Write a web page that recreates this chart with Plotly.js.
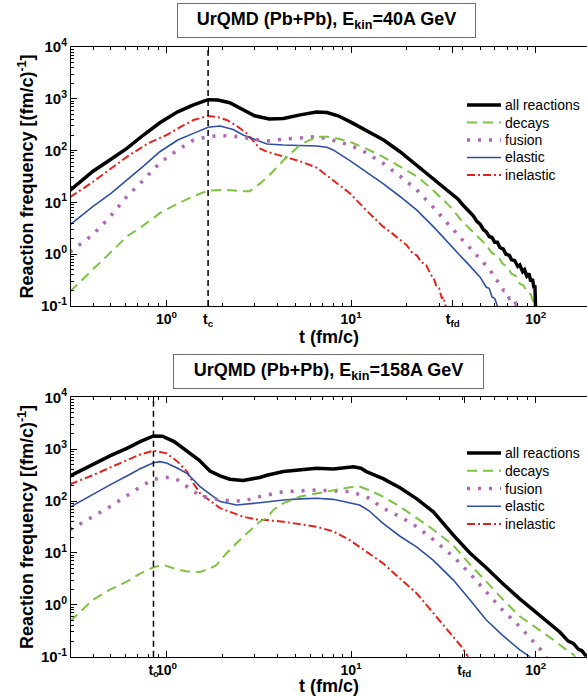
<!DOCTYPE html>
<html><head><meta charset="utf-8">
<script src="https://cdn.plot.ly/plotly-3.0.1.min.js"></script>
<style>html,body{margin:0;padding:0;background:#fff}#chart{width:587px;height:696px}</style>
</head><body><div id="chart"></div>
<script>
// ---------- Panel 1: E_kin = 40A GeV ----------
const allTopT = [0.3,0.4,0.5,0.61,0.75,0.92,1.15,1.4,1.68,1.9,2.2,2.6,3.0,3.6,4.3,5.3,6.5,7.4,8.5,9.85,12,15,18.4,22.7,27.9,34.4,38,40,43,45.9,48,50,52,54,56,58,60,62,64,66.8,69,72,74,77,80,82,85,87,89.5,92,94,96,98,99,100];
const allTopV = [17,40,68,110,200,345,560,760,960,950,840,605,470,407,416,490,555,545,470,363,250,160,95,52,29,16,11.5,9.2,7.0,5.5,4.3,3.8,3.0,2.7,2.2,2.1,1.7,1.7,1.35,1.25,1.0,0.95,0.78,0.75,0.58,0.62,0.46,0.5,0.38,0.42,0.3,0.33,0.22,0.25,0.08];

const decTopT = [0.3,0.4,0.5,0.61,0.75,0.92,1.15,1.39,1.68,2.12,2.5,2.83,3.2,3.6,4.3,5.3,6.5,7.4,8.5,9.85,12,14.9,18.4,22.7,27.9,34.4,40,45,50,54,58,62,66,70,74,78,82,86,90,94,97,99,100];
const decTopV = [0.19,0.5,1.1,2.2,3.6,6.2,9.5,13,17,17.4,16.5,16.5,23,33,65,130,185,185,170,148,110,76,50,32,17,8.3,4.3,2.8,1.9,1.5,1.05,0.95,0.66,0.58,0.42,0.38,0.27,0.25,0.18,0.17,0.12,0.13,0.08];

const fusTopT = [0.3,0.4,0.5,0.61,0.75,0.92,1.15,1.4,1.68,1.95,2.3,2.6,3.0,3.5,4.3,5.3,6.5,7.4,8.4,9.85,12,14.9,18.4,22.7,27.9,34.4,40,43,46,50,54,57,60,64,67,69,72,75,78,80,82];
const fusTopV = [1.1,2.4,5.5,13,27,58,103,160,185,195,190,178,165,153,166,178,186,170,148,128,92,57,32,17.4,8.0,3.4,1.9,1.5,1.05,0.85,0.58,0.48,0.33,0.28,0.2,0.2,0.14,0.15,0.11,0.12,0.08];

const elaTopT = [0.3,0.4,0.5,0.61,0.75,0.92,1.15,1.4,1.68,1.95,2.3,2.6,3.2,3.5,4.3,5.3,6.5,7.4,8.0,9.85,12,14.9,18.4,22.7,27.9,34.4,38,40,43,46,50,54,56,58,60,62,63];
const elaTopV = [3.7,8.4,15,27,50,95,160,215,282,298,255,200,148,134,128,125,123,116,103,64,39,23,13,7.1,3.4,1.5,1.0,0.85,0.65,0.5,0.36,0.23,0.22,0.15,0.14,0.1,0.08];

const ineTopT = [0.3,0.4,0.5,0.63,0.8,1.0,1.2,1.4,1.68,1.9,2.12,2.4,2.72,3.2,3.5,4.3,5.3,6.5,8.0,9.85,12.1,14.9,16.5,18.4,20,21.5,22.7,24,25.5,27,27.9,29,30,31,31.6,32.5,33.5];
const ineTopV = [12.6,25,45,82,140,200,290,390,466,440,390,300,215,110,95,76,62,47,27,15,7,3.4,2.6,1.9,1.5,1.05,0.95,0.7,0.62,0.4,0.36,0.24,0.22,0.14,0.15,0.1,0.08];

const tcTop = 1.68, tfdTop = 35.5;

// ---------- Panel 2: E_kin = 158A GeV ----------
const allBotT = [0.3,0.4,0.5,0.61,0.72,0.85,0.95,1.1,1.3,1.5,1.72,1.95,2.2,2.6,3.2,3.5,4.3,5.3,6.5,8.0,9.0,10.3,11.3,12.1,14.9,18.4,22.7,27.9,35.8,44,54,66,82,100,115,125,135,150,160,170,178,185,192];
const allBotV = [305,519,760,1040,1400,1795,1780,1400,895,615,380,305,263,250,285,315,370,400,430,415,430,460,430,370,270,180,110,62,22,10,5.2,2.6,1.3,0.72,0.48,0.36,0.3,0.2,0.18,0.14,0.13,0.11,0.09];

const decBotT = [0.3,0.4,0.5,0.61,0.72,0.85,0.96,1.1,1.29,1.52,1.72,1.87,2.12,2.6,3.2,3.5,3.8,4.3,5.3,6.5,8.0,9.85,11.1,12.5,14.9,18.4,22.7,27.9,35.8,44,54,66,82,100,125,145,160,170];
const decBotV = [0.48,1.25,2.0,2.8,4.0,5.3,5.9,5.0,4.4,4.3,5.0,5.9,10,20.5,40,47,68,91,122,141,160,185,190,163,122,78,47,28,14,6.0,2.8,1.3,0.6,0.37,0.21,0.14,0.11,0.08];

const fusBotT = [0.3,0.4,0.5,0.61,0.72,0.85,1.04,1.15,1.29,1.52,1.95,2.6,3.2,4.3,6.5,8.0,9.85,12.1,14.9,18.4,22.7,27.9,35.8,44,54,66,82,100,110,118];
const fusBotV = [28,50,80,126,187,263,290,255,190,126,105,100,122,152,163,158,152,122,73,50,32,18,8.5,4.0,1.8,0.8,0.38,0.17,0.12,0.08];

const elaBotT = [0.3,0.4,0.5,0.61,0.72,0.85,0.92,1.0,1.15,1.29,1.52,1.95,2.4,3.2,4.3,5.3,6.5,8.0,9.85,11.1,12.5,14.9,18.4,22.7,27.9,35.8,44,54,66,82,93,96];
const elaBotV = [76,137,210,305,420,550,575,540,430,343,190,98,84,93,105,110,113,108,91,84,65,37,21,13,7.2,3.0,1.25,0.51,0.26,0.135,0.1,0.08];

const ineBotT = [0.3,0.4,0.5,0.61,0.72,0.85,1.0,1.15,1.29,1.4,1.52,1.95,2.6,3.2,3.46,4.3,6.5,8.0,9.85,12.1,14.9,18.4,22.7,27.9,34.4,40,43,44];
const ineBotV = [210,316,450,615,790,940,830,575,370,218,141,73,50,43,43,40,32,26,17.6,10.6,6.3,3.2,1.66,0.69,0.28,0.15,0.1,0.08];

const tcBot = 0.85, tfdBot = 41;

// ---------- labels / ticks ----------
const seriesNames = ['all reactions','decays','fusion','elastic','inelastic'];
const titleTop = 'UrQMD (Pb+Pb), E<sub>kin</sub>=40A GeV';
const titleBot = 'UrQMD (Pb+Pb), E<sub>kin</sub>=158A GeV';
const xMajorVals = [1,10,100];
const xMajorText = ['10<sup>0</sup>','10<sup>1</sup>','10<sup>2</sup>'];
const xMinorVals = [0.3,0.4,0.5,0.6,0.7,0.8,0.9,2,3,4,5,6,7,8,9,20,30,40,50,60,70,80,90];
const yMajorVals = [0.1,1,10,100,1000,10000];
const yMajorText = ['10<sup>-1</sup>','10<sup>0</sup>','10<sup>1</sup>','10<sup>2</sup>','10<sup>3</sup>','10<sup>4</sup>'];
const yMinorVals = [0.2,0.3,0.4,0.5,0.6,0.7,0.8,0.9,2,3,4,5,6,7,8,9,20,30,40,50,60,70,80,90,200,300,400,500,600,700,800,900,2000,3000,4000,5000,6000,7000,8000,9000];

// ---------- styling ----------
const W = 587, H = 696;
const FONT = 'Liberation Sans, Arial, Helvetica, sans-serif';
const styles = {
  'all reactions': {color:'#000000', width:3.5, dash:'solid'},
  'decays':        {color:'#7cc243', width:2, dash:'10px,6px'},
  'fusion':        {color:'#b066b6', width:3.5, dash:'3px,8px'},
  'elastic':       {color:'#2f4ea6', width:1.6, dash:'solid'},
  'inelastic':     {color:'#e3241b', width:2, dash:'8px,3px,2px,3px'}
};
function px(x){return x/W;}
function py(y){return 1 - y/H;}

function mk(name, t, v, xa, ya){
  return {type:'scatter', mode:'lines', name:name, x:t, y:v, xaxis:xa, yaxis:ya,
    line: Object.assign({}, styles[name]), hoverinfo:'skip', cliponaxis:true, showlegend:false};
}
const traces = [
  mk('inelastic', ineTopT, ineTopV, 'x', 'y'),
  mk('elastic', elaTopT, elaTopV, 'x', 'y'),
  mk('fusion', fusTopT, fusTopV, 'x', 'y'),
  mk('decays', decTopT, decTopV, 'x', 'y'),
  mk('all reactions', allTopT, allTopV, 'x', 'y'),
  mk('inelastic', ineBotT, ineBotV, 'x2', 'y2'),
  mk('elastic', elaBotT, elaBotV, 'x2', 'y2'),
  mk('fusion', fusBotT, fusBotV, 'x2', 'y2'),
  mk('decays', decBotT, decBotV, 'x2', 'y2'),
  mk('all reactions', allBotT, allBotV, 'x2', 'y2')
];

const xLeftPx = 71, dec = 184.6, one = 166.5;
const xRange = [(xLeftPx - one)/dec, (W - one)/dec];
const xTickFont = {family:FONT, size:14, color:'#000', weight:'bold'};
const yTickFont = {family:FONT, size:15, color:'#000', weight:'bold'};
const titleFont = {family:FONT, size:18, color:'#000', weight:'bold'};

function xAx(anchor, tc, tfd){
  return {type:'log', domain:[px(xLeftPx), 1], range:xRange, anchor:anchor,
    tickmode:'array', tickvals:xMajorVals.concat([tc, tfd]), ticktext:xMajorText.concat(['t<sub>c</sub>','t<sub>fd</sub>']),
    ticks:'inside', ticklen:6, tickwidth:1, tickcolor:'#000', tickangle:0,
    showline:true, linecolor:'#000', linewidth:1, mirror:'ticks',
    showgrid:false, zeroline:false, tickfont:xTickFont,
    minor:{tickmode:'array', tickvals:xMinorVals, ticks:'inside', ticklen:3, tickcolor:'#000', showgrid:false},
    title:{text:'t (fm/c)', font:titleFont, standoff:2}};
}
function yAx(anchor, d0, d1){
  return {type:'log', domain:[py(d1), py(d0)], range:[-1,4], anchor:anchor,
    tickmode:'array', tickvals:yMajorVals, ticktext:yMajorText,
    ticks:'inside', ticklen:6, tickwidth:1, tickcolor:'#000',
    showline:true, linecolor:'#000', linewidth:1, mirror:false,
    showgrid:false, zeroline:false, tickfont:yTickFont,
    minor:{tickmode:'array', tickvals:yMinorVals, ticks:'inside', ticklen:3, tickcolor:'#000', showgrid:false},
    title:{text:'Reaction frequency [(fm/c)<sup>-1</sup>]', font:titleFont, standoff:2}};
}
function yRight(anchor, overl, d0, d1){
  return {type:'log', domain:[py(d1), py(d0)], range:[-1,4], anchor:anchor, overlaying:overl, side:'right',
    tickmode:'array', tickvals:yMajorVals, ticks:'inside', ticklen:6, tickcolor:'#000',
    showticklabels:false, showline:false, showgrid:false, zeroline:false,
    minor:{tickmode:'array', tickvals:yMinorVals, ticks:'inside', ticklen:3, tickcolor:'#000', showgrid:false}};
}

// ---------- legends (drawn as line samples + text) ----------
const shapes = [
  {type:'line', xref:'x', yref:'y domain', x0:tcTop, x1:tcTop, y0:0, y1:1, line:{color:'#000', width:1.5, dash:'6px,4px'}},
  {type:'line', xref:'x2', yref:'y2 domain', x0:tcBot, x1:tcBot, y0:0, y1:1, line:{color:'#000', width:1.5, dash:'6px,4px'}}
];
const annotations = [
  {text:titleTop, xref:'paper', yref:'paper', x:px(326.3), y:py(20.5), xanchor:'center', yanchor:'middle',
   showarrow:false, font:{family:FONT, size:18, color:'#000', weight:'bold'},
   bordercolor:'#6e6e6e', borderwidth:1, borderpad:1, bgcolor:'#fff', width:295, height:31},
  {text:titleBot, xref:'paper', yref:'paper', x:px(328.5), y:py(372), xanchor:'center', yanchor:'middle',
   showarrow:false, font:{family:FONT, size:18, color:'#000', weight:'bold'},
   bordercolor:'#6e6e6e', borderwidth:1, borderpad:1, bgcolor:'#fff', width:307, height:31}
];
function addLegend(top, step){
  seriesNames.forEach(function(n, i){
    const y = top + step*i;
    const st = styles[n];
    shapes.push({type:'line', xref:'paper', yref:'paper', x0:px(467), x1:px(501), y0:py(y), y1:py(y),
      line:{color:st.color, width:st.width, dash:st.dash}});
    annotations.push({text:n, xref:'paper', yref:'paper', x:px(503), y:py(y), xanchor:'left', yanchor:'middle',
      showarrow:false, font:{family:FONT, size:14, color:'#000'}});
  });
}
addLegend(105, 17.5);
addLegend(453, 17.75);

const layout = {
  width:W, height:H, margin:{l:0, r:0, t:0, b:0},
  paper_bgcolor:'#fff', plot_bgcolor:'#fff', showlegend:false,
  font:{family:FONT, color:'#000'},
  xaxis: xAx('y', tcTop, tfdTop),
  yaxis: yAx('x', 47, 306),
  yaxis3: yRight('x', 'y', 47, 306),
  xaxis2: xAx('y2', tcBot, tfdBot),
  yaxis2: yAx('x2', 397.3, 656.7),
  yaxis4: yRight('x2', 'y2', 397.3, 656.7),
  shapes: shapes,
  annotations: annotations
};

Plotly.newPlot('chart', traces, layout, {staticPlot:true, displayModeBar:false});
</script></body></html>
